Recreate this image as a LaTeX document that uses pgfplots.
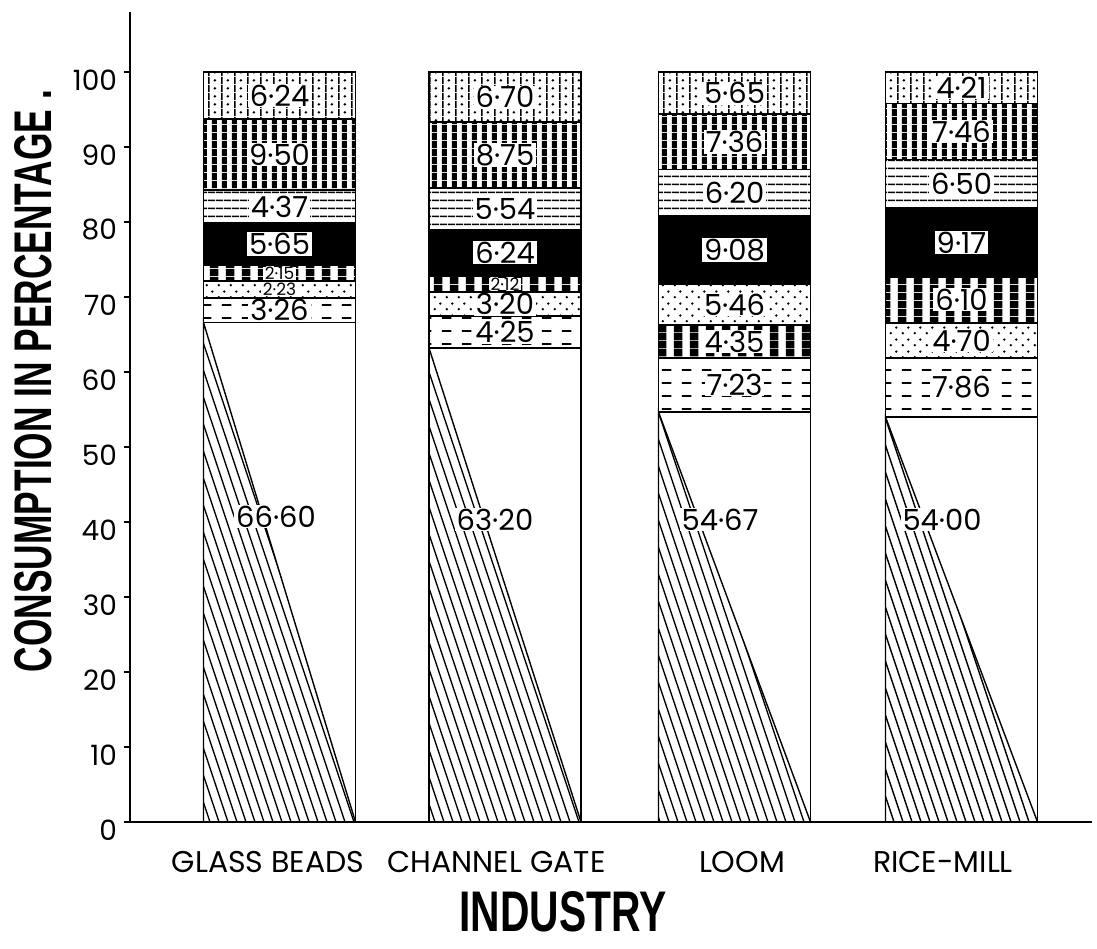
\documentclass[border=0pt]{standalone}
\usepackage{graphicx}
\usepackage{fontspec}
\setmainfont{Poppins}
\newfontfamily\tfont{Liberation Sans}
\usepackage{pgfplots}
\usepackage{pgfplotstable}
\pgfplotsset{compat=1.18}
\usetikzlibrary{patterns}

\pgfdeclarepatternformonly{hdash}{\pgfqpoint{0pt}{0pt}}{\pgfqpoint{10pt}{6.5pt}}{\pgfqpoint{10pt}{6.5pt}}{%
 \pgfsetlinewidth{0.9pt}\pgfpathmoveto{\pgfqpoint{1pt}{3.25pt}}\pgfpathlineto{\pgfqpoint{6pt}{3.25pt}}\pgfusepath{stroke}}
\pgfdeclarepatternformonly{sdots}{\pgfqpoint{0pt}{0pt}}{\pgfqpoint{6pt}{6pt}}{\pgfqpoint{6pt}{6pt}}{%
 \pgfpathcircle{\pgfqpoint{1.5pt}{1.5pt}}{0.7pt}\pgfpathcircle{\pgfqpoint{4.5pt}{4.5pt}}{0.7pt}\pgfusepath{fill}}
\pgfdeclarepatternformonly{vthick}{\pgfqpoint{0pt}{0pt}}{\pgfqpoint{8pt}{4pt}}{\pgfqpoint{8pt}{4pt}}{%
 \pgfpathrectangle{\pgfqpoint{1pt}{0pt}}{\pgfqpoint{4.5pt}{4pt}}\pgfusepath{fill}}
\pgfdeclarepatternformonly{hlin}{\pgfqpoint{0pt}{0pt}}{\pgfqpoint{4pt}{4pt}}{\pgfqpoint{4pt}{4pt}}{%
 \pgfpathrectangle{\pgfqpoint{0pt}{1.6pt}}{\pgfqpoint{4pt}{0.8pt}}\pgfusepath{fill}}
\pgfdeclarepatternformonly{vdense}{\pgfqpoint{0pt}{0pt}}{\pgfqpoint{5pt}{4pt}}{\pgfqpoint{5pt}{4pt}}{%
 \pgfpathrectangle{\pgfqpoint{1pt}{0pt}}{\pgfqpoint{2.8pt}{4pt}}\pgfusepath{fill}}
\pgfdeclarepatternformonly{dotline}{\pgfqpoint{0pt}{0pt}}{\pgfqpoint{6.5pt}{4pt}}{\pgfqpoint{6.5pt}{4pt}}{%
 \pgfpathrectangle{\pgfqpoint{0pt}{0pt}}{\pgfqpoint{0.9pt}{4pt}}\pgfpathcircle{\pgfqpoint{3.7pt}{2pt}}{0.75pt}\pgfusepath{fill}}
\pgfdeclarepatternformonly{steep}{\pgfqpoint{-0.5pt}{-0.5pt}}{\pgfqpoint{5pt}{14pt}}{\pgfqpoint{4.5pt}{13.5pt}}{%
 \pgfsetlinewidth{0.7pt}\pgfpathmoveto{\pgfqpoint{0pt}{13.5pt}}\pgfpathlineto{\pgfqpoint{4.5pt}{0pt}}\pgfusepath{stroke}}

% bottom-up layers; loom has its vertical-stripe and dotted layers swapped
\pgfplotstableread{
x     l1    l2   l3a  l3b  l4a  l4b  l5   l6   l7   l8
2.795 66.60 3.26 2.23 0    2.15 0    5.65 4.37 9.50 6.24
5.05  63.20 4.25 3.20 0    2.12 0    6.24 5.54 8.75 6.70
7.345 54.67 7.23 0    4.35 0    5.46 9.08 6.20 7.36 5.65
9.615 54.00 7.86 4.70 0    6.10 0    9.17 6.50 7.46 4.21
}\datatable

\pgfplotstableread{
x     y      lab
2.76  40.7   66·60
2.795 68.23  3·26
2.795 77.065 5·65
2.795 82.075 4·37
2.795 89.01  9·50
2.795 96.88  6·24
4.95  40.3   63·20
5.05  65.325 4·25
5.05  69.05  3·20
5.05  75.89  6·24
5.05  81.78  5·54
5.05  88.925 8·75
5.05  96.65  6·70
7.20  40.3   54·67
7.345 58.285 7·23
7.345 64.075 4·35
7.345 68.98  5·46
7.345 76.25  9·08
7.345 83.89  6·20
7.345 90.67  7·36
7.345 97.175 5·65
9.42  40.3   54·00
9.615 57.93  7·86
9.615 64.21  4·70
9.615 69.61  6·10
9.615 77.245 9·17
9.615 85.08  6·50
9.615 92.06  7·46
9.615 97.895 4·21
}\biglab

\pgfplotstableread{
x     y      lab
2.795 70.975 2·23
2.795 73.165 2·15
5.05  71.71  2·12
}\smalllab

\begin{document}
\begin{tikzpicture}
\pgfplotsset{base/.style={at={(65pt,63pt)}, anchor=south west, scale only axis,
  width=481pt, height=405pt, xmin=1.30, xmax=10.92, ymin=0, ymax=108}}
\path[use as bounding box] (0,0) rectangle (548.5pt,474pt);
\begin{axis}[base,
  axis x line*=bottom, axis y line*=left,
  axis line style={line width=1pt, black},
  ybar stacked, bar width=1.52,
  every axis plot/.append style={draw=black, line width=0.9pt},
  xtick={2.68,4.965,7.42,9.43},
  xticklabels={GLASS BEADS,CHANNEL GATE,LOOM,RICE-MILL},
  x tick style={draw=none},
  ytick={0,10,...,100},
  y tick style={line width=0.8pt, black},
  tick align=outside, major tick length=3pt,
  /pgf/number format/assume math mode=true,
  yticklabel style={font=\fontsize{14}{16}\selectfont, yshift=-4pt},
  xticklabel style={font=\fontsize{15}{17}\selectfont, anchor=base, yshift=-22pt},
  ylabel={\resizebox{291pt}{18.5pt}{\tfont\bfseries CONSUMPTION IN PERCENTAGE .}},
  ylabel style={at={(rel axis cs:-0.1003,0.5444)}, anchor=center},
  xlabel={\resizebox{103.5pt}{20pt}{\tfont\bfseries INDUSTRY}},
  xlabel style={at={(rel axis cs:0.450,-0.111)}, anchor=center, inner sep=0pt},
]
\addplot[fill=white] table[x=x,y=l1]{\datatable};
\addplot[pattern=hdash] table[x=x,y=l2]{\datatable};
\addplot[pattern=sdots] table[x=x,y=l3a]{\datatable};
\addplot[pattern=vthick] table[x=x,y=l3b]{\datatable};
\addplot[pattern=vthick] table[x=x,y=l4a]{\datatable};
\addplot[pattern=sdots] table[x=x,y=l4b]{\datatable};
\addplot[fill=black] table[x=x,y=l5]{\datatable};
\addplot[pattern=hlin] table[x=x,y=l6]{\datatable};
\addplot[pattern=vdense] table[x=x,y=l7]{\datatable};
\addplot[pattern=dotline] table[x=x,y=l8]{\datatable};
\end{axis}
\begin{axis}[base, hide axis, clip=false]
\addplot[draw=black, line width=0.7pt, pattern=steep] coordinates {(2.035,66.60) (3.555,0)} \closedcycle;
\addplot[draw=black, line width=0.7pt, pattern=steep] coordinates {(4.29,63.20) (5.81,0)} \closedcycle;
\addplot[draw=black, line width=0.7pt, pattern=steep] coordinates {(6.585,54.67) (8.105,0)} \closedcycle;
\addplot[draw=black, line width=0.7pt, pattern=steep] coordinates {(8.855,54.00) (10.375,0)} \closedcycle;
\addplot[draw=none, mark=none, nodes near coords, point meta=explicit symbolic,
  every node near coord/.append style={font=\fontsize{14.5}{16}\selectfont, fill=white,
  inner xsep=1pt, inner ysep=0.4pt, anchor=center}]
  table[x=x,y=y,meta=lab]{\biglab};
\addplot[draw=none, mark=none, nodes near coords, point meta=explicit symbolic,
  every node near coord/.append style={font=\fontsize{8.5}{10}\selectfont, fill=white,
  inner xsep=0.8pt, inner ysep=0pt, anchor=center}]
  table[x=x,y=y,meta=lab]{\smalllab};
\end{axis}
\end{tikzpicture}
\end{document}
